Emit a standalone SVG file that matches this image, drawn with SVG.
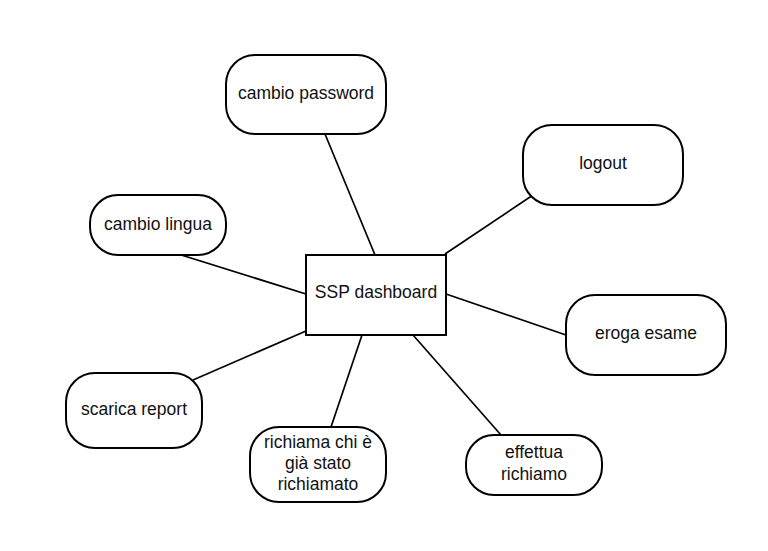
<svg xmlns="http://www.w3.org/2000/svg" width="768" height="551" viewBox="0 0 768 551">
<style>
.n{fill:#fff;stroke:#000;stroke-width:2}
.t{font-family:"Liberation Sans",Arial,sans-serif;font-size:17.5px;fill:#111;text-anchor:middle}
.c line{stroke:#000;stroke-width:1.7}
</style>
<rect width="768" height="551" fill="#fff"/>
<g class="c" id="connectors">
<line x1="325" y1="134" x2="375" y2="255"/>
<line x1="178" y1="254" x2="306" y2="294"/>
<line x1="193" y1="380" x2="306" y2="331"/>
<line x1="331" y1="427" x2="362" y2="335"/>
<line x1="501" y1="435" x2="413" y2="335"/>
<line x1="533" y1="195" x2="445" y2="254"/>
<line x1="446" y1="294" x2="566" y2="335"/>
</g>
<g id="ssp-dashboard"><rect class="n" x="306" y="255" width="140" height="80"/><text class="t" x="376" y="298">SSP dashboard</text></g>
<g id="cambio-password"><rect class="n" x="226" y="55" width="160" height="79" rx="29"/><text class="t" x="306" y="99">cambio password</text></g>
<g id="cambio-lingua"><rect class="n" x="90" y="195" width="136" height="60" rx="28"/><text class="t" x="158" y="230">cambio lingua</text></g>
<g id="scarica-report"><rect class="n" x="66" y="373" width="136" height="75" rx="29"/><text class="t" x="134" y="415">scarica report</text></g>
<g id="richiama-chi"><rect class="n" x="250" y="427" width="136" height="75" rx="29"/><text class="t" x="318" y="448">richiama chi è</text><text class="t" x="318" y="469">già stato</text><text class="t" x="318" y="490">richiamato</text></g>
<g id="effettua-richiamo"><rect class="n" x="466" y="435" width="136" height="60" rx="28"/><text class="t" x="534" y="458">effettua</text><text class="t" x="534" y="480">richiamo</text></g>
<g id="logout"><rect class="n" x="523" y="125" width="160" height="80" rx="29"/><text class="t" x="603" y="169">logout</text></g>
<g id="eroga-esame"><rect class="n" x="566" y="295" width="160" height="80" rx="29"/><text class="t" x="646" y="339">eroga esame</text></g>
</svg>
